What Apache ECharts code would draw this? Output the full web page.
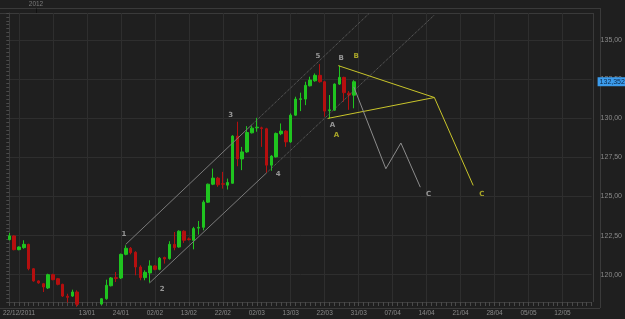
<!DOCTYPE html>
<html>
<head>
<meta charset="utf-8">
<script src="https://cdn.jsdelivr.net/npm/echarts@6/dist/echarts.min.js"></script>
<style>
html, body { margin: 0; padding: 0; background: #1f1f1f; }
#chart { width: 625px; height: 319px; }
</style>
</head>
<body>
<div id="chart"></div>
<script>
// date labels shown under the vertical grid lines (every 7th bar, starting at bar 2)
var tickLabels = ['22/12/2011', '', '13/01', '24/01', '02/02', '13/02', '22/02', '02/03', '13/03',
	'22/03', '31/03', '07/04', '14/04', '21/04', '28/04', '05/05', '12/05'];
var barCount = 121;

// [open, close, low, high]
var ohlc = [
	[122.24, 122.48, 122.20, 122.67], [122.48, 121.60, 121.56, 122.52], [121.60, 121.77, 121.56, 121.81],
	[121.73, 121.94, 121.66, 122.20], [121.94, 120.38, 120.28, 121.98], [120.38, 119.60, 119.55, 120.42],
	[119.60, 119.47, 119.42, 119.64], [119.42, 119.21, 118.89, 119.47], [119.15, 120.00, 119.08, 120.06],
	[120.00, 119.68, 119.64, 120.06], [119.74, 119.38, 119.32, 119.79], [119.38, 118.63, 118.57, 119.42],
	[118.62, 118.55, 118.22, 118.78], [118.63, 118.89, 118.57, 119.04], [118.89, 118.10, 117.95, 119.00],
	[118.10, 117.85, 117.70, 118.20], [117.85, 117.70, 117.50, 118.05], [117.70, 117.95, 117.55, 118.10],
	[117.95, 118.12, 117.80, 118.20], [118.12, 118.46, 118.05, 118.50], [118.46, 119.32, 118.40, 119.68],
	[119.29, 119.79, 119.25, 119.85], [119.81, 119.76, 119.53, 120.17], [119.79, 121.30, 119.72, 121.35],
	[121.30, 121.69, 121.24, 121.88], [121.69, 121.41, 121.30, 121.77], [121.43, 120.49, 119.96, 121.50],
	[120.49, 119.81, 119.64, 120.60], [119.81, 120.15, 119.64, 120.28], [120.11, 120.56, 119.49, 120.92],
	[120.56, 120.34, 120.28, 120.60], [120.34, 121.05, 120.28, 121.13], [121.10, 121.00, 120.71, 121.15],
	[121.03, 121.94, 120.96, 122.14], [121.94, 121.73, 121.56, 122.73], [121.77, 122.78, 121.73, 122.84],
	[122.78, 122.20, 122.03, 122.84], [122.29, 122.25, 122.18, 122.38], [122.20, 122.95, 121.62, 123.06],
	[122.98, 123.03, 122.56, 123.44], [123.03, 124.64, 122.84, 124.76], [124.64, 125.79, 124.59, 125.83],
	[125.79, 126.18, 125.73, 126.79], [126.18, 125.75, 125.62, 126.26], [125.82, 125.79, 125.51, 126.58],
	[125.73, 125.90, 125.45, 126.15], [125.85, 128.87, 125.83, 128.93], [128.87, 127.41, 126.94, 129.79],
	[127.41, 127.86, 126.69, 128.18], [127.86, 129.10, 127.80, 129.51], [129.08, 129.38, 129.04, 129.51],
	[129.40, 129.44, 129.15, 130.04], [129.40, 129.36, 128.18, 129.47], [129.34, 127.01, 126.52, 129.40],
	[127.01, 127.59, 126.65, 127.65], [127.54, 129.04, 127.50, 129.10], [129.02, 129.19, 128.93, 129.68],
	[129.19, 128.50, 128.18, 129.25], [128.50, 130.21, 128.44, 130.32], [130.21, 131.24, 130.17, 131.39],
	[131.22, 131.26, 130.47, 131.65], [131.24, 132.12, 130.85, 132.35], [132.09, 132.46, 132.05, 132.67],
	[132.41, 132.76, 132.35, 132.88], [132.76, 132.35, 132.29, 133.48], [132.35, 130.47, 130.11, 132.39],
	[130.50, 130.55, 130.00, 131.50], [130.53, 132.20, 130.49, 132.24], [132.20, 132.63, 132.14, 133.38],
	[132.63, 131.65, 131.07, 132.67], [131.62, 131.50, 130.55, 131.75], [131.49, 132.35, 130.65, 132.45]
];
var lastPrice = 132.352;

// drawn lines: [bar index, price]
var upperSolid = [[24, 121.94], [50, 129.60]];
var upperDotted = [[50, 129.60], [74.05, 136.69]];
var lowerSolid = [[28.9, 119.47], [53, 126.51]];
var lowerDotted = [[53, 126.51], [87.6, 136.62]];
var yellowTop = [[67.8, 133.38], [87.6, 131.34], [95.6, 125.71]];
var yellowBottom = [[65.6, 130.0], [87.6, 131.34]];
var grayZigzag = [[71.0, 132.02], [77.6, 126.78], [80.7, 128.43], [84.7, 125.60]];

// wave labels: [text, bar index, price]
var waveLabels = [['1', 23.6, 122.57], ['2', 31.5, 119.10], ['3', 45.6, 130.21], ['4', 55.4, 126.40],
	['5', 63.6, 134.01], ['B', 68.4, 133.86], ['A', 66.6, 129.56], ['C', 86.4, 125.18]];
var yellowLabels = [['B', 71.5, 133.97], ['A', 67.4, 128.92], ['C', 97.4, 125.18]];

// trading days from 20/12/2011 (26/12 and 02/01 closed)
var categories = [];
(function() {
	var d = new Date(2011, 11, 20);
	while(categories.length < barCount) {
		var wd = d.getDay();
		var key = d.getDate() + '/' + (d.getMonth() + 1);
		if(wd !== 0 && wd !== 6 && key !== '26/12' && key !== '2/1') {
			categories.push(('0' + d.getDate()).slice(-2) + '/' + ('0' + (d.getMonth() + 1)).slice(-2) + '/' + d.getFullYear());
		}
		d.setDate(d.getDate() + 1);
	}
})();

function isGridBar(i) {
	return i >= 2 && (i - 2) % 7 === 0;
}

function lineSeries(data, color, type) {
	return {
		type: 'line',
		xAxisIndex: 1,
		data: data,
		symbol: 'none',
		silent: true,
		animation: false,
		z: 5,
		lineStyle: { color: color, width: 1, type: type }
	};
}

function labelSeries(list, color) {
	return {
		type: 'scatter',
		xAxisIndex: 1,
		symbolSize: 0,
		silent: true,
		animation: false,
		z: 6,
		data: list.map(function(l) { return { name: l[0], value: [l[1], l[2]] }; }),
		label: {
			show: true,
			position: 'inside',
			formatter: '{b}',
			color: color,
			fontSize: 7,
			fontWeight: 'bold',
			fontFamily: 'DejaVu Sans'
		}
	};
}

var gridLineColors = [];
for(var k = 0; k < 10; k++) gridLineColors.push(k === 7 ? '#2e2e2e' : 'rgba(0,0,0,0)');

var myChart = echarts.init(document.getElementById('chart'));

var option = {
	backgroundColor: '#1f1f1f',
	animation: false,
	grid: { left: 2, right: 32, top: 13, bottom: 17 },
	xAxis: [{
		type: 'category',
		data: categories,
		boundaryGap: false,
		axisLine: { lineStyle: { color: '#3c3c3c' } },
		axisTick: { interval: 0, length: 4, lineStyle: { color: '#4a4a4a' } },
		splitLine: { show: true, interval: function(i) { return isGridBar(i); }, lineStyle: { color: '#2e2e2e' } },
		axisLabel: {
			interval: function(i) { return isGridBar(i); },
			formatter: function(v, i) { return tickLabels[(i - 2) / 7] || ''; },
			color: '#8a8a8a',
			fontSize: 6.5,
			fontFamily: 'Liberation Sans',
			margin: 8
		}
	}, {
		type: 'value',
		min: 0,
		max: barCount - 1,
		show: false
	}],
	yAxis: {
		type: 'value',
		position: 'right',
		offset: 7,
		min: 118.25,
		max: 136.75,
		interval: 0.25,
		axisLine: { show: true, lineStyle: { color: '#3c3c3c' } },
		axisTick: { show: true, inside: true, length: 3, lineStyle: { color: '#4a4a4a' } },
		splitLine: { show: true, lineStyle: { color: gridLineColors } },
		axisLabel: {
			color: '#8a8a8a',
			fontSize: 7,
			fontFamily: 'Liberation Sans',
			margin: 2,
			formatter: function(v) {
				var r = v / 2.5;
				return Math.abs(r - Math.round(r)) < 1e-6 ? v.toFixed(2).replace('.', ',') : '';
			}
		}
	},
	graphic: [
		{ type: 'line', shape: { x1: 0, y1: 8.5, x2: 600, y2: 8.5 }, style: { stroke: '#3a3a3a' } },
		{ type: 'line', shape: { x1: 0, y1: 13.5, x2: 593, y2: 13.5 }, style: { stroke: '#3a3a3a' } },
		{ type: 'line', shape: { x1: 593.5, y1: 13, x2: 593.5, y2: 302 }, style: { stroke: '#3a3a3a' } },
		{ type: 'line', shape: { x1: 600.5, y1: 8, x2: 600.5, y2: 308 }, style: { stroke: '#3a3a3a' } },
		{ type: 'line', shape: { x1: 0, y1: 308.5, x2: 600, y2: 308.5 }, style: { stroke: '#3a3a3a' } },
		{ type: 'line', shape: { x1: 36.5, y1: 8.5, x2: 36.5, y2: 13 }, style: { stroke: '#111' } },
		{ type: 'text', x: 36, y: 4, style: { text: '2012', fill: '#7a7a7a', font: '6.5px Liberation Sans', textAlign: 'center', textVerticalAlign: 'middle' } }
	],
	series: [{
		type: 'candlestick',
		data: ohlc,
		barWidth: 3,
		animation: false,
		itemStyle: {
			color: '#1fc41f',
			color0: '#b50f0f',
			borderColor: '#1fc41f',
			borderColor0: '#b50f0f',
			borderWidth: 1
		},
		markLine: {
			silent: true,
			symbol: 'none',
			animation: false,
			data: [{ yAxis: lastPrice }],
			lineStyle: { color: 'rgba(0,0,0,0)' },
			label: {
				show: true,
				position: 'end',
				distance: 6,
				formatter: function() { return lastPrice.toFixed(3).replace('.', ','); },
				backgroundColor: '#3c9cec',
				color: '#0b2748',
				fontSize: 7,
				fontFamily: 'Liberation Sans',
				padding: [1, 2]
			}
		}
	},
		lineSeries(upperSolid, '#7a7a7a', 'solid'),
		lineSeries(upperDotted, '#6a6a6a', 'dotted'),
		lineSeries(lowerSolid, '#7a7a7a', 'solid'),
		lineSeries(lowerDotted, '#6a6a6a', 'dotted'),
		lineSeries(yellowTop, '#c9c52a', 'solid'),
		lineSeries(yellowBottom, '#c9c52a', 'solid'),
		lineSeries(grayZigzag, '#8c8c8c', 'solid'),
		labelSeries(waveLabels, '#b4b4b4'),
		labelSeries(yellowLabels, '#c9c52a')
	]
};
myChart.setOption(option);
</script>
</body>
</html>
